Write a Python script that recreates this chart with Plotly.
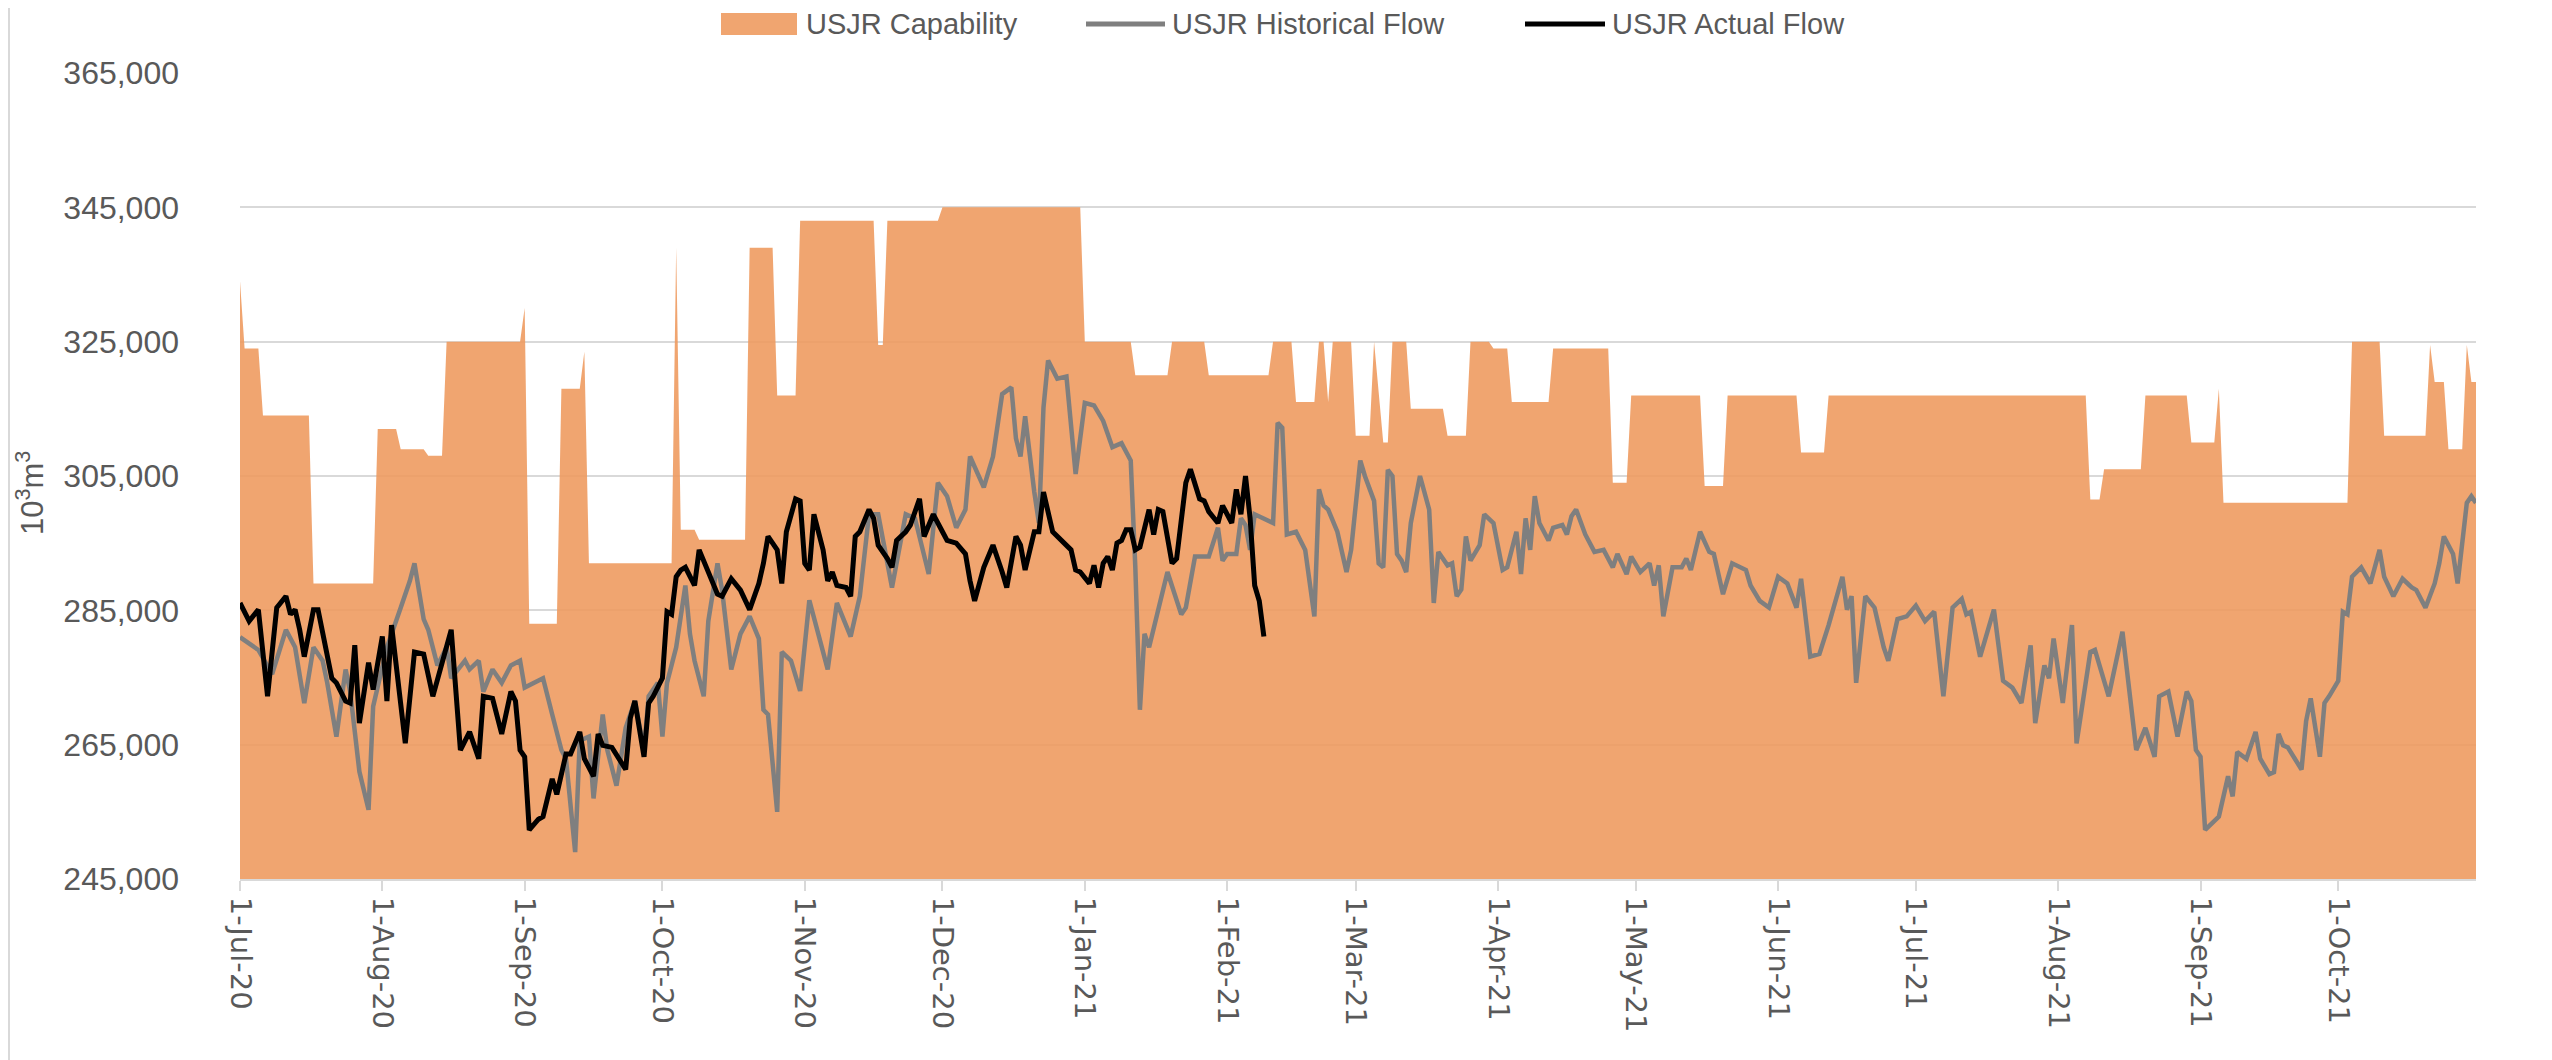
import pandas as pd
import plotly.graph_objects as go

# Day offsets are counted from 1-Jul-2020; values are in 10^3 m^3
start_date = pd.Timestamp("2020-07-01")

cap_day = [0, 1, 4, 5, 15, 16, 29, 30, 34, 35, 40, 41, 44, 45, 61, 62, 63, 69, 70, 74,
           75, 76, 94, 95, 96, 99, 100, 110, 111, 116, 117, 121, 122, 138, 139, 140, 141,
           152, 153, 183, 184, 194, 195, 202, 203, 210, 211, 224, 225, 229, 230, 234, 235,
           236, 237, 238, 242, 243, 246, 247, 249, 250, 251, 254, 255, 262, 263, 267, 268,
           272, 273, 276, 277, 285, 286, 298, 299, 302, 303, 318, 319, 323, 324, 339, 340,
           345, 346, 402, 403, 405, 406, 414, 415, 424, 425, 430, 431, 432, 459, 460, 466,
           467, 476, 477, 478, 480, 481, 484, 485, 486, 487]
cap_val = [334000, 324000, 324000, 314000, 314000, 289000, 289000, 312000, 312000, 309000,
           309000, 308000, 308000, 325000, 325000, 330000, 283000, 283000, 318000, 318000,
           323500, 292000, 292000, 339000, 297000, 297000, 295500, 295500, 339000, 339000,
           317000, 317000, 343000, 343000, 324500, 324500, 343000, 343000, 345000, 345000,
           325000, 325000, 320000, 320000, 325000, 325000, 320000, 320000, 325000, 325000,
           316000, 316000, 325000, 325000, 316000, 325000, 325000, 311000, 311000, 325000,
           310000, 310000, 325000, 325000, 315000, 315000, 311000, 311000, 325000, 325000,
           324000, 324000, 316000, 316000, 324000, 324000, 304000, 304000, 317000, 317000,
           303500, 303500, 317000, 317000, 308500, 308500, 317000, 317000, 301500, 301500,
           306000, 306000, 317000, 317000, 310000, 310000, 318000, 301000, 301000, 325000,
           325000, 311000, 311000, 324500, 319000, 319000, 309000, 309000, 324500, 319000,
           319000]

hist_day = [0, 2, 4, 7, 10, 12, 14, 16, 18, 19, 21, 23, 24, 26, 28, 29, 32, 35, 37, 38,
            40, 41, 43, 45, 46, 49, 50, 52, 53, 55, 57, 59, 61, 62, 64, 66, 68, 70, 71, 73,
            74, 76, 77, 79, 80, 82, 84, 86, 88, 89, 91, 92, 93, 95, 97, 98, 99, 101, 102, 104,
            105, 107, 109, 111, 113, 114, 115, 117, 118, 120, 122, 124, 128, 130, 133, 135, 137, 139, 142, 145,
            147, 150, 152, 154, 156, 158, 159, 162, 164, 166, 168, 169, 170, 171, 173, 174, 175, 176, 178, 180,
            182, 184, 186, 188, 190, 192, 194, 195, 196, 197, 198, 201, 202, 205, 206, 208, 211, 213, 214, 215,
            217, 218, 219, 220, 221, 225, 226, 227, 228, 230, 232, 234, 235, 236, 237, 239, 241, 242, 244, 245,
            247, 248, 249, 250, 251, 252, 253, 254, 255, 257, 259, 260, 261, 263, 264, 265, 266, 267, 268, 270,
            271, 273, 275, 276, 278, 279, 280, 281, 282, 283, 285, 286, 288, 289, 290, 291, 293, 295, 297, 299,
            300, 302, 303, 305, 307, 308, 309, 310, 312, 314, 315, 316, 318, 320, 321, 323, 325, 328, 329, 331,
            333, 335, 337, 339, 340, 342, 344, 346, 347, 349, 350, 351, 352, 354, 356, 358, 359, 361, 363, 365,
            367, 369, 371, 373, 375, 376, 377, 379, 382, 384, 386, 388, 390, 391, 393, 394, 395, 397, 399, 400,
            403, 404, 407, 410, 413, 415, 417, 418, 420, 422, 424, 425, 426, 427, 428, 430, 431, 433, 434, 435,
            437, 439, 440, 442, 443, 444, 445, 446, 449, 450, 451, 453, 454, 455, 457, 458, 459, 460, 461, 462,
            464, 466, 467, 469, 471, 473, 474, 476, 478, 479, 480, 482, 483, 485, 486, 487]
hist_val = [281000, 280000, 279100, 275500, 282100, 279500, 271200, 279500, 277500, 274200,
            266200, 276200, 272900, 261000, 255300, 270700, 279500, 285400, 289400, 292000,
            283700, 282100, 276800, 279500, 274900, 277500, 276200, 277500, 272900, 276200,
            274200, 276800, 277500, 273500, 274200, 274900, 269500, 264200, 262900, 249000,
            265600, 266200, 257000, 269500, 264200, 258900, 267500, 271500, 264200, 272200,
            274200, 266200, 274200, 279500, 288700, 281500, 277500, 272200, 283400, 292000,
            288000, 276200, 281500, 284100, 280800, 270200, 269500, 255000, 278800, 277500,
            273000, 286500, 276200, 286100, 281100, 287100, 299300, 299300, 288400, 299300,
            298700, 290400, 304000, 302000, 297300, 300000, 307900, 303300, 307900, 317200,
            318200, 310600, 307900, 313900, 302600, 298000, 315200, 322200, 319500, 319800,
            305300, 315900, 315500, 313200, 309300, 309900, 307300, 291400, 270200, 281500,
            279500, 288000, 290700, 284400, 285400, 293000, 293000, 297300, 292400, 293400,
            293400, 298700, 297700, 294000, 299300, 298000, 312900, 312200, 296300, 296700,
            294000, 284100, 303000, 300600, 300000, 296700, 290700, 294000, 307300, 305000,
            301300, 292000, 291400, 305900, 305000, 293400, 292400, 290700, 298000, 305000,
            300000, 286100, 293700, 291700, 292000, 287100, 288100, 296000, 292400, 294700,
            299300, 298000, 291000, 291400, 296700, 290400, 298700, 294000, 302000, 298000,
            295400, 297300, 297700, 296300, 299000, 300000, 296300, 293700, 294000, 291400,
            293400, 290400, 293000, 290700, 292000, 288700, 291700, 284100, 291400, 291400,
            292700, 291000, 296700, 293700, 293400, 287400, 292000, 291000, 288700, 286400,
            285400, 290000, 289000, 285400, 289700, 278100, 278500, 282800, 285400, 290000,
            285100, 287100, 274200, 287100, 285400, 279500, 277500, 283700, 284100, 285700,
            283400, 284800, 272200, 285400, 286700, 284400, 284800, 278100, 285100, 274500,
            273500, 271200, 279800, 268200, 276800, 274900, 280800, 271200, 282800, 265200,
            278800, 279100, 272200, 281800, 264200, 267500, 263200, 272200, 272900, 266200,
            272900, 271500, 264200, 263200, 252300, 253600, 254300, 260300, 257300, 263900,
            262900, 266900, 262900, 260600, 260900, 266600, 264900, 264600, 261300, 268500,
            271900, 263200, 271200, 272200, 274500, 284800, 284400, 290000, 290700, 291400,
            289000, 294000, 290000, 287100, 289700, 288400, 288000, 285400, 289000, 292000,
            296000, 293400, 289000, 301000, 302000, 301000]

actual_day = [0, 2, 4, 5, 6, 8, 10, 11, 12, 13, 14, 16, 17, 20, 21, 23, 24, 25, 26, 28,
              29, 31, 32, 33, 36, 38, 40, 42, 44, 46, 48, 50, 52, 53, 55, 57, 59, 60, 61, 62,
              63, 65, 66, 68, 69, 71, 72, 74, 75, 77, 78, 79, 81, 84, 85, 86, 88, 89, 90, 92,
              93, 94, 95, 96, 97, 99, 100, 102, 104, 105, 107, 109, 111, 113, 114, 115, 117, 118, 119, 121,
              122, 123, 124, 125, 127, 128, 129, 130, 132, 133, 134, 135, 137, 138, 139, 141, 142, 143, 145, 146,
              148, 149, 151, 153, 154, 156, 158, 159, 160, 162, 164, 166, 167, 169, 170, 171, 173, 174, 175, 177,
              179, 180, 181, 182, 183, 185, 186, 187, 188, 189, 190, 191, 192, 193, 194, 195, 196, 198, 199, 200,
              201, 203, 204, 206, 207, 209, 210, 211, 213, 214, 216, 217, 218, 219, 220, 221, 222, 223]
actual_val = [286100, 283400, 285100, 278800, 272200, 285400, 287100, 284400, 285100, 282100,
              278100, 285100, 285100, 274900, 274200, 271500, 271200, 279800, 268200, 277200,
              273200, 281100, 271500, 282800, 265200, 278800, 278500, 272200, 277500, 282100,
              264200, 266900, 262900, 272200, 271900, 266600, 272900, 271500, 264200, 263200,
              252300, 253900, 254300, 259900, 257600, 263600, 263600, 266900, 262900, 260300,
              266600, 264900, 264600, 261300, 268900, 271500, 263200, 271200, 272200, 274900,
              284800, 284400, 290000, 291000, 291400, 288700, 294000, 290700, 287400, 287100,
              289700, 288000, 285100, 289000, 292000, 296000, 294000, 289000, 296700, 301600,
              301300, 292000, 291000, 299300, 294000, 289400, 290700, 288700, 288400, 287100,
              296000, 296700, 300000, 298700, 294700, 292700, 291400, 295400, 296700, 297700,
              301600, 296000, 299300, 296700, 295400, 295000, 293400, 289400, 286400, 291400,
              294700, 290700, 288400, 296000, 294700, 291000, 296700, 296700, 302600, 296700,
              295400, 294700, 294000, 291000, 290700, 289000, 291700, 288400, 292000, 293000,
              291000, 295000, 295400, 297000, 297000, 294000, 294400, 300000, 296300, 300000,
              299700, 292000, 292700, 304000, 306000, 301600, 301300, 299700, 298000, 300600,
              298000, 303000, 299300, 305000, 298700, 288700, 286400, 281100]

y_ticks = [245000, 265000, 285000, 305000, 325000, 345000, 365000]

CAP_COLOR = "rgba(238,153,92,0.88)"
HIST_COLOR = "#7F7F7F"
ACTUAL_COLOR = "#000000"
TEXT_COLOR = "#595959"

# the page puts the figure 8px in from the top-left corner;
# plot area wanted at page x 240..2476, y 73..879
W, H = 2552, 1060
PAGE_OFF = 8
PLOT_L, PLOT_R, PLOT_T, PLOT_B = 240, 2476, 73, 879
PW, PH = PLOT_R - PLOT_L, PLOT_B - PLOT_T


def to_dates(days):
    return start_date + pd.to_timedelta(days, unit="D")


def px_x(page_x):
    return (page_x - PLOT_L) / PW


def px_y(page_y):
    return (PLOT_B - page_y) / PH


fig = go.Figure()

fig.add_trace(go.Scatter(
    x=to_dates(cap_day), y=cap_val,
    name="USJR Capability",
    mode="lines",
    fill="tozeroy",
    fillcolor=CAP_COLOR,
    line=dict(width=0, color=CAP_COLOR),
))
fig.add_trace(go.Scatter(
    x=to_dates(hist_day), y=hist_val,
    name="USJR Historical Flow",
    mode="lines",
    line=dict(color=HIST_COLOR, width=4.5),
))
fig.add_trace(go.Scatter(
    x=to_dates(actual_day), y=actual_val,
    name="USJR Actual Flow",
    mode="lines",
    line=dict(color=ACTUAL_COLOR, width=5),
))

# hand-placed legend, top centre (Excel style)
legend_y = px_y(24)
shapes = [
    dict(type="rect", xref="paper", yref="paper",
         x0=px_x(721), x1=px_x(797), y0=px_y(35), y1=px_y(13),
         fillcolor=CAP_COLOR, line=dict(width=0)),
    dict(type="line", xref="paper", yref="paper",
         x0=px_x(1086), x1=px_x(1165), y0=legend_y, y1=legend_y,
         line=dict(color=HIST_COLOR, width=5)),
    dict(type="line", xref="paper", yref="paper",
         x0=px_x(1525), x1=px_x(1605), y0=legend_y, y1=legend_y,
         line=dict(color=ACTUAL_COLOR, width=5)),
    # chart frame, left and right edges
    dict(type="line", xref="paper", yref="paper",
         x0=px_x(PAGE_OFF + 1), x1=px_x(PAGE_OFF + 1), y0=px_y(PAGE_OFF), y1=px_y(H),
         line=dict(color="#D9D9D9", width=2)),
    dict(type="line", xref="paper", yref="paper",
         x0=px_x(2545), x1=px_x(2545), y0=px_y(PAGE_OFF), y1=px_y(H),
         line=dict(color="#D9D9D9", width=2)),
]
legend_items = [("USJR Capability", 804), ("USJR Historical Flow", 1170), ("USJR Actual Flow", 1610)]
annotations = [
    dict(text=txt, x=px_x(x0), y=legend_y, xref="paper", yref="paper",
         xanchor="left", yanchor="middle", showarrow=False,
         font=dict(size=29, color=TEXT_COLOR))
    for txt, x0 in legend_items
]
annotations.append(dict(
    text="10<sup>3</sup>m<sup>3</sup>", x=px_x(30), y=px_y(493), xref="paper", yref="paper",
    xanchor="center", yanchor="middle", textangle=-90, showarrow=False,
    font=dict(size=31, color=TEXT_COLOR),
))

fig.update_layout(
    width=W,
    height=H,
    margin=dict(l=PLOT_L - PAGE_OFF, r=W - (PLOT_R - PAGE_OFF),
                t=PLOT_T - PAGE_OFF, b=H - (PLOT_B - PAGE_OFF), autoexpand=False),
    paper_bgcolor="white",
    plot_bgcolor="white",
    font=dict(family="Liberation Sans", color=TEXT_COLOR),
    showlegend=False,
    shapes=shapes,
    annotations=annotations,
)

fig.update_yaxes(
    range=[245000, 365000],
    tickvals=y_ticks,
    tickformat=",",
    showgrid=True,
    gridcolor="#D9D9D9",
    gridwidth=2,
    zeroline=False,
    showline=False,
    ticks="",
    automargin=False,
    ticklabelstandoff=60,
    tickfont=dict(size=32, color=TEXT_COLOR),
)

fig.update_xaxes(
    range=[start_date, pd.Timestamp("2021-10-31")],
    dtick="M1",
    tick0="2020-07-01",
    tickformat="%-d-%b-%y",
    tickangle=90,
    ticks="outside",
    ticklen=10,
    tickwidth=2,
    tickcolor="#D9D9D9",
    showline=True,
    linecolor="#D9D9D9",
    linewidth=2,
    showgrid=False,
    zeroline=False,
    automargin=False,
    tickfont=dict(family="DejaVu Sans", size=29, color=TEXT_COLOR),
)

fig.write_html("out.html")
